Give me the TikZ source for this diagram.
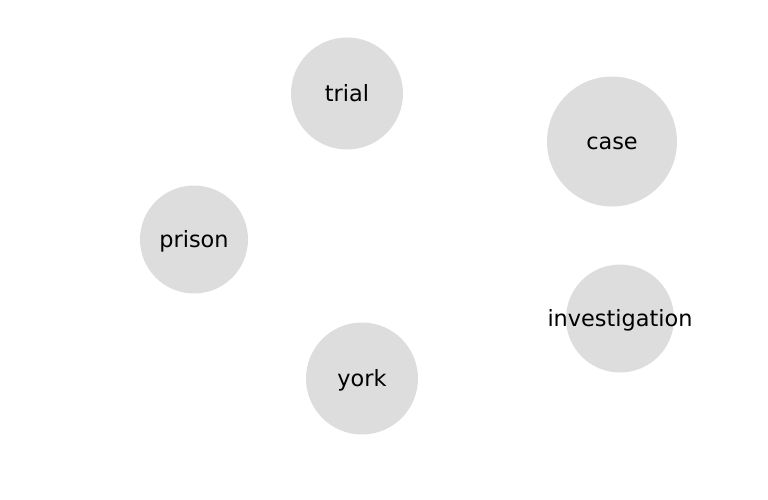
\documentclass[tikz,border=0pt]{standalone}
\usepackage{fontspec}
\setmainfont{DejaVu Sans}
\definecolor{nodegray}{HTML}{DDDDDD}
\begin{document}
\begin{tikzpicture}[x=1pt,y=-1pt,
  bubble/.style={circle, fill=nodegray, draw=none, inner sep=0pt, minimum size=#1},
  word/.style={font=\fontsize{22.4}{26}\selectfont, text=black, inner sep=0pt, text height=20pt, text depth=4pt}]
\useasboundingbox (0,0) rectangle (768,500);
\node[bubble=112pt] (trial) at (347,93.5) {};
\node[word] (trialT) at (trial) {trial};
\node[bubble=130pt] (case) at (612,141.5) {};
\node[word] (caseT) at (case) {case};
\node[bubble=108pt] (prison) at (194,239.5) {};
\node[word] (prisonT) at (prison) {prison};
\node[bubble=108pt] (inv) at (620,318.5) {};
\node[word] (invT) at (inv) {investigation};
\node[bubble=112pt] (york) at (362,378.5) {};
\node[word] (yorkT) at (york) {york};
\end{tikzpicture}
\end{document}
